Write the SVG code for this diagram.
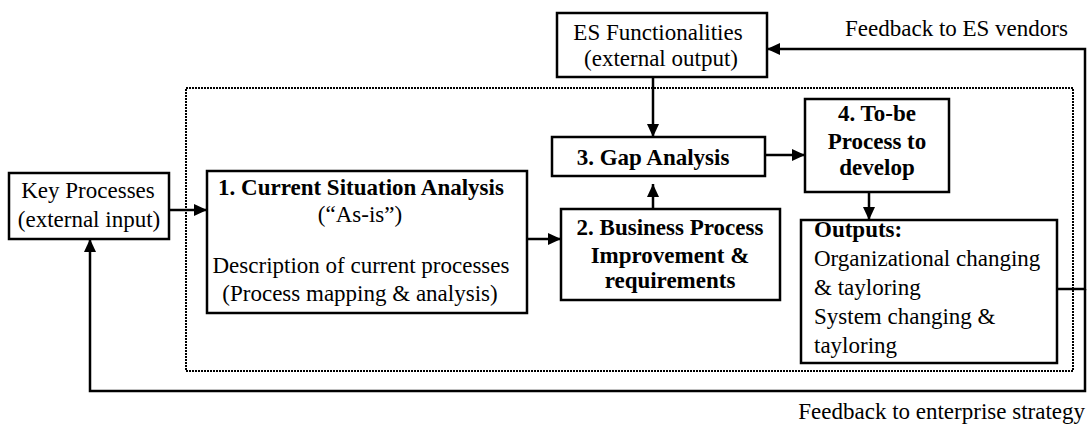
<svg xmlns="http://www.w3.org/2000/svg" width="1088" height="425" viewBox="0 0 1088 425">
<style>
.box{fill:#fff;stroke:#000;stroke-width:2.5}
.t{font-family:"Liberation Serif","Times New Roman",serif;font-size:23px;fill:#000}
.b{font-weight:bold}
.c{text-anchor:middle}
.ln{fill:none;stroke:#000;stroke-width:2.5}
</style>
<defs>
<marker id="ah" markerWidth="13" markerHeight="12" refX="13" refY="6" orient="auto" markerUnits="userSpaceOnUse">
<path d="M0,0 L13,6 L0,12 Z" fill="#000"/>
</marker>
</defs>
<rect id="scope" x="186" y="88" width="887" height="283" fill="none" stroke="#000" stroke-width="2" stroke-dasharray="2,1"/>
<g id="connectors">
<line class="ln" x1="169" y1="210" x2="207" y2="210" marker-end="url(#ah)"/>
<line class="ln" x1="653" y1="77" x2="653" y2="137" marker-end="url(#ah)"/>
<line class="ln" x1="527" y1="239" x2="561" y2="239" marker-end="url(#ah)"/>
<line class="ln" x1="653" y1="209" x2="653" y2="184" marker-end="url(#ah)"/>
<line class="ln" x1="765" y1="155" x2="805" y2="155" marker-end="url(#ah)"/>
<line class="ln" x1="869" y1="192" x2="869" y2="220" marker-end="url(#ah)"/>
<polyline class="ln" points="1057,289 1085,289 1085,49 767,49" marker-end="url(#ah)"/>
<polyline class="ln" points="1085,289 1085,391 90,391 90,239" marker-end="url(#ah)"/>
</g>
<g id="key">
<rect class="box" x="9" y="173" width="160" height="66"/>
<text class="t c" x="88" y="198">Key Processes</text>
<text class="t c" x="89" y="227">(external input)</text>
</g>
<g id="es">
<rect class="box" x="557" y="13" width="210" height="64"/>
<text class="t c" x="658" y="40">ES Functionalities</text>
<text class="t c" x="661" y="66">(external output)</text>
</g>
<g id="step1">
<rect class="box" x="207" y="171" width="320" height="142"/>
<text class="t b c" x="361" y="195">1. Current Situation Analysis</text>
<text class="t c" x="360" y="222">(“As-is”)</text>
<text class="t c" x="361" y="273">Description of current processes</text>
<text class="t c" x="360" y="301">(Process mapping &amp; analysis)</text>
</g>
<g id="step2">
<rect class="box" x="561" y="209" width="219" height="91"/>
<text class="t b c" x="670" y="235">2. Business Process</text>
<text class="t b c" x="670" y="263">Improvement &amp;</text>
<text class="t b c" x="670" y="288">requirements</text>
</g>
<g id="step3">
<rect class="box" x="552" y="137" width="213" height="39"/>
<text class="t b c" x="653" y="165">3. Gap Analysis</text>
</g>
<g id="step4">
<rect class="box" x="805" y="99" width="144" height="93"/>
<text class="t b c" x="877" y="121">4. To-be</text>
<text class="t b c" x="877" y="149">Process to</text>
<text class="t b c" x="877" y="175">develop</text>
</g>
<g id="outputs">
<rect class="box" x="801" y="220" width="256" height="143"/>
<text class="t b" x="814" y="237">Outputs:</text>
<text class="t" x="814" y="266">Organizational changing</text>
<text class="t" x="814" y="295">&amp; tayloring</text>
<text class="t" x="814" y="324">System changing &amp;</text>
<text class="t" x="814" y="353">tayloring</text>
</g>
<text class="t" x="845" y="36">Feedback to ES vendors</text>
<text class="t" x="1085" y="419" text-anchor="end">Feedback to enterprise strategy</text>
</svg>
